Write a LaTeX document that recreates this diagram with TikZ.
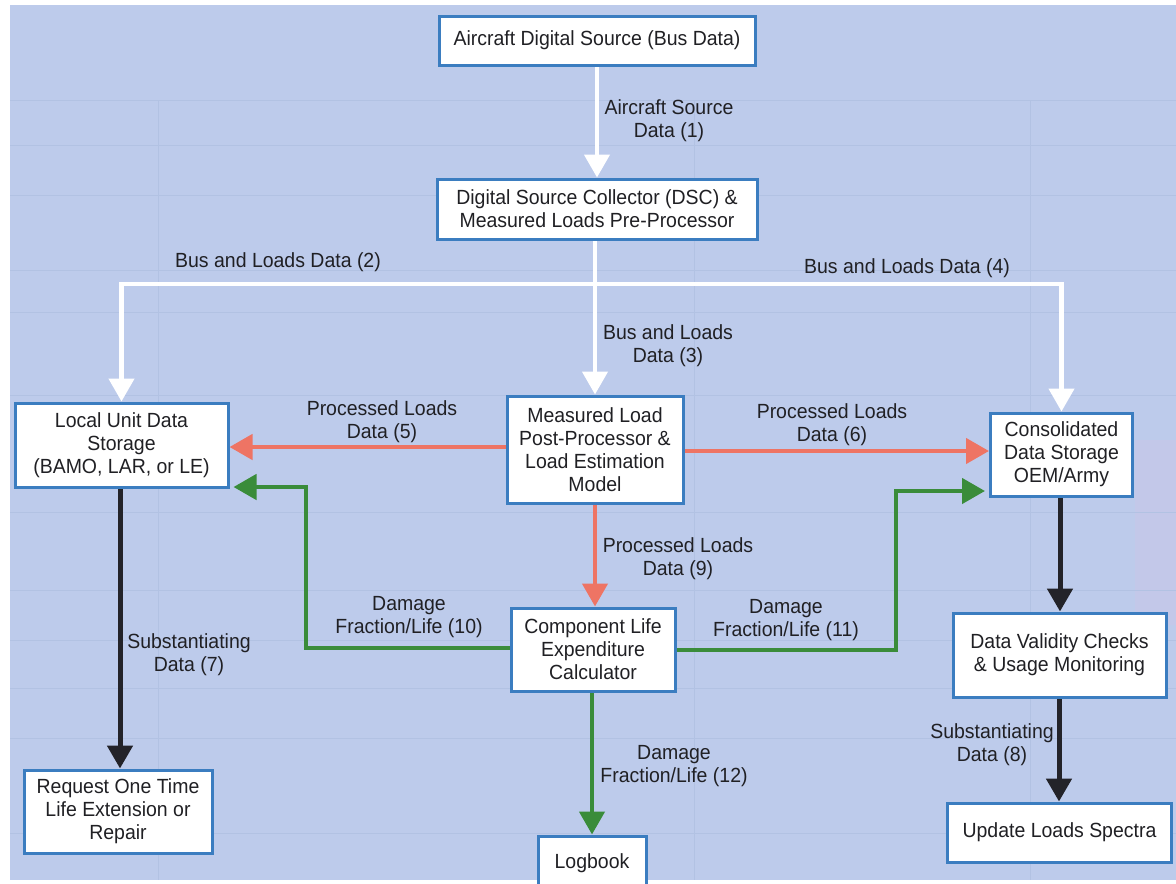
\documentclass[tikz,border=0pt]{standalone}
\usepackage{fontspec}
\setmainfont{Liberation Sans}[FakeStretch=0.95]
\usetikzlibrary{arrows.meta}

\definecolor{bgblue}{HTML}{BDCBEB}
\definecolor{gridblue}{HTML}{B2C2E3}
\definecolor{bgpink}{HTML}{C8C6E8}
\definecolor{boxblue}{HTML}{3B7DC0}
\definecolor{txt}{HTML}{202024}
\definecolor{flowred}{HTML}{EE7464}
\definecolor{flowgreen}{HTML}{3A8C3A}
\definecolor{flowblack}{HTML}{232329}

\pgfdeclarelayer{paper}
\pgfdeclarelayer{edges}
\pgfsetlayers{paper,edges,main}

\begin{document}
\begin{tikzpicture}[x=1pt,y=-1pt,
  box/.style={draw=boxblue, line width=3pt, fill=white, align=center,
    text=txt, inner sep=0pt, font=\fontsize{20.5}{23}\selectfont},
  lbl/.style={align=center, text=txt, inner sep=0pt,
    font=\fontsize{20.5}{23}\selectfont},
  flow/.style={line width=4.5pt, -{Triangle[width=25pt,length=23pt]}},
  whiteflow/.style={flow, draw=white},
  redflow/.style={flow, draw=flowred},
  greenflow/.style={flow, draw=flowgreen},
  blackflow/.style={flow, draw=flowblack, line width=5pt}
]
\useasboundingbox (0,0) rectangle (1176,884);

% paper with faint table ruling
\begin{pgfonlayer}{paper}
  \fill[white] (0,0) rectangle (1176,884);
  \fill[bgblue] (10,5) rectangle (1176,880);
  \fill[bgpink, opacity=0.6] (1135,440) rectangle (1176,625);
  \foreach \yy in {100,145,195,270,312,395,512,590,640,688,738,833}
    \draw[gridblue, line width=1pt] (10,\yy) -- (1176,\yy);
  \foreach \xx in {158,694,1030}
    \draw[gridblue, line width=1pt] (\xx,100) -- (\xx,880);
\end{pgfonlayer}

% blocks
\node[box, minimum width=316pt, minimum height=49pt] (src) at (597,40.5)
  {Aircraft Digital Source (Bus Data)};
\node[box, minimum width=320pt, minimum height=60pt] (dsc) at (597,209)
  {Digital Source Collector (DSC) \&\\Measured Loads Pre-Processor};
\node[box, minimum width=213pt, minimum height=84pt] (store) at (121.5,445)
  {Local Unit Data\\Storage\\(BAMO, LAR, or LE)};
\node[box, minimum width=176pt, minimum height=107pt] (post) at (595,449.5)
  {Measured Load\\Post-Processor \&\\Load Estimation\\Model};
\node[box, minimum width=142pt, minimum height=83pt] (cons) at (1061.5,454.5)
  {Consolidated\\Data Storage\\OEM/Army};
\node[box, minimum width=164pt, minimum height=83pt] (calc) at (593,649.5)
  {Component Life\\Expenditure\\Calculator};
\node[box, minimum width=213pt, minimum height=84pt] (valid) at (1059.5,655)
  {Data Validity Checks\\\& Usage Monitoring};
\node[box, minimum width=188pt, minimum height=83pt] (req) at (118,811.5)
  {Request One Time\\Life Extension or\\Repair};
\node[box, minimum width=108pt, minimum height=54pt] (log) at (592,863)
  {Logbook};
\node[box, minimum width=224pt, minimum height=59pt] (spec) at (1059.5,832.5)
  {Update Loads Spectra};

% data flows
\begin{pgfonlayer}{edges}
  \coordinate (busL) at (store.north |- 0,284);
  \coordinate (busR) at (cons.north |- 0,284);
  \draw[whiteflow] (src.south) -- (dsc.north);
  \draw[whiteflow] (dsc.south -| post.north) -- (post.north);
  \draw[whiteflow] (busR) -- (busL) -- (store.north);
  \draw[whiteflow] (busL) -- (busR) -- (cons.north);

  \draw[redflow] (post.west |- 0,447) -- (store.east |- 0,447);
  \draw[redflow] (post.east |- 0,451) -- (cons.west |- 0,451);
  \draw[redflow] (post.south) -- (calc.north -| post.south);

  \draw[greenflow] (calc.west |- 0,648) -- (306,648) -- (306,487)
    -- ([xshift=4pt]store.east |- 0,487);
  \draw[greenflow] (calc.east |- 0,650) -- (896,650) -- (896,491)
    -- ([xshift=-4pt]cons.west |- 0,491);
  \draw[greenflow] (calc.south -| log.north) -- (log.north);

  \draw[blackflow] (store.south -| 120,0) -- (req.north -| 120,0);
  \draw[blackflow] (cons.south -| 1060,0) -- (valid.north -| 1060,0);
  \draw[blackflow] (valid.south -| 1059,0) -- (spec.north -| 1059,0);
\end{pgfonlayer}

% flow labels
\node[lbl] (l1) at (669,121) {Aircraft Source\\Data (1)};
\node[lbl] (l2) at (278,262) {Bus and Loads Data (2)};
\node[lbl] (l3) at (668,346) {Bus and Loads\\Data (3)};
\node[lbl] (l4) at (907,268) {Bus and Loads Data (4)};
\node[lbl] (l5) at (382,422) {Processed Loads\\Data (5)};
\node[lbl] (l6) at (832,425) {Processed Loads\\Data (6)};
\node[lbl] (l7) at (189,655) {Substantiating\\Data (7)};
\node[lbl] (l8) at (992,745) {Substantiating\\Data (8)};
\node[lbl] (l9) at (678,559) {Processed Loads\\Data (9)};
\node[lbl] (l10) at (409,617) {Damage\\Fraction/Life (10)};
\node[lbl] (l11) at (786,620) {Damage\\Fraction/Life (11)};
\node[lbl] (l12) at (674,766) {Damage\\Fraction/Life (12)};
\end{tikzpicture}
\end{document}
